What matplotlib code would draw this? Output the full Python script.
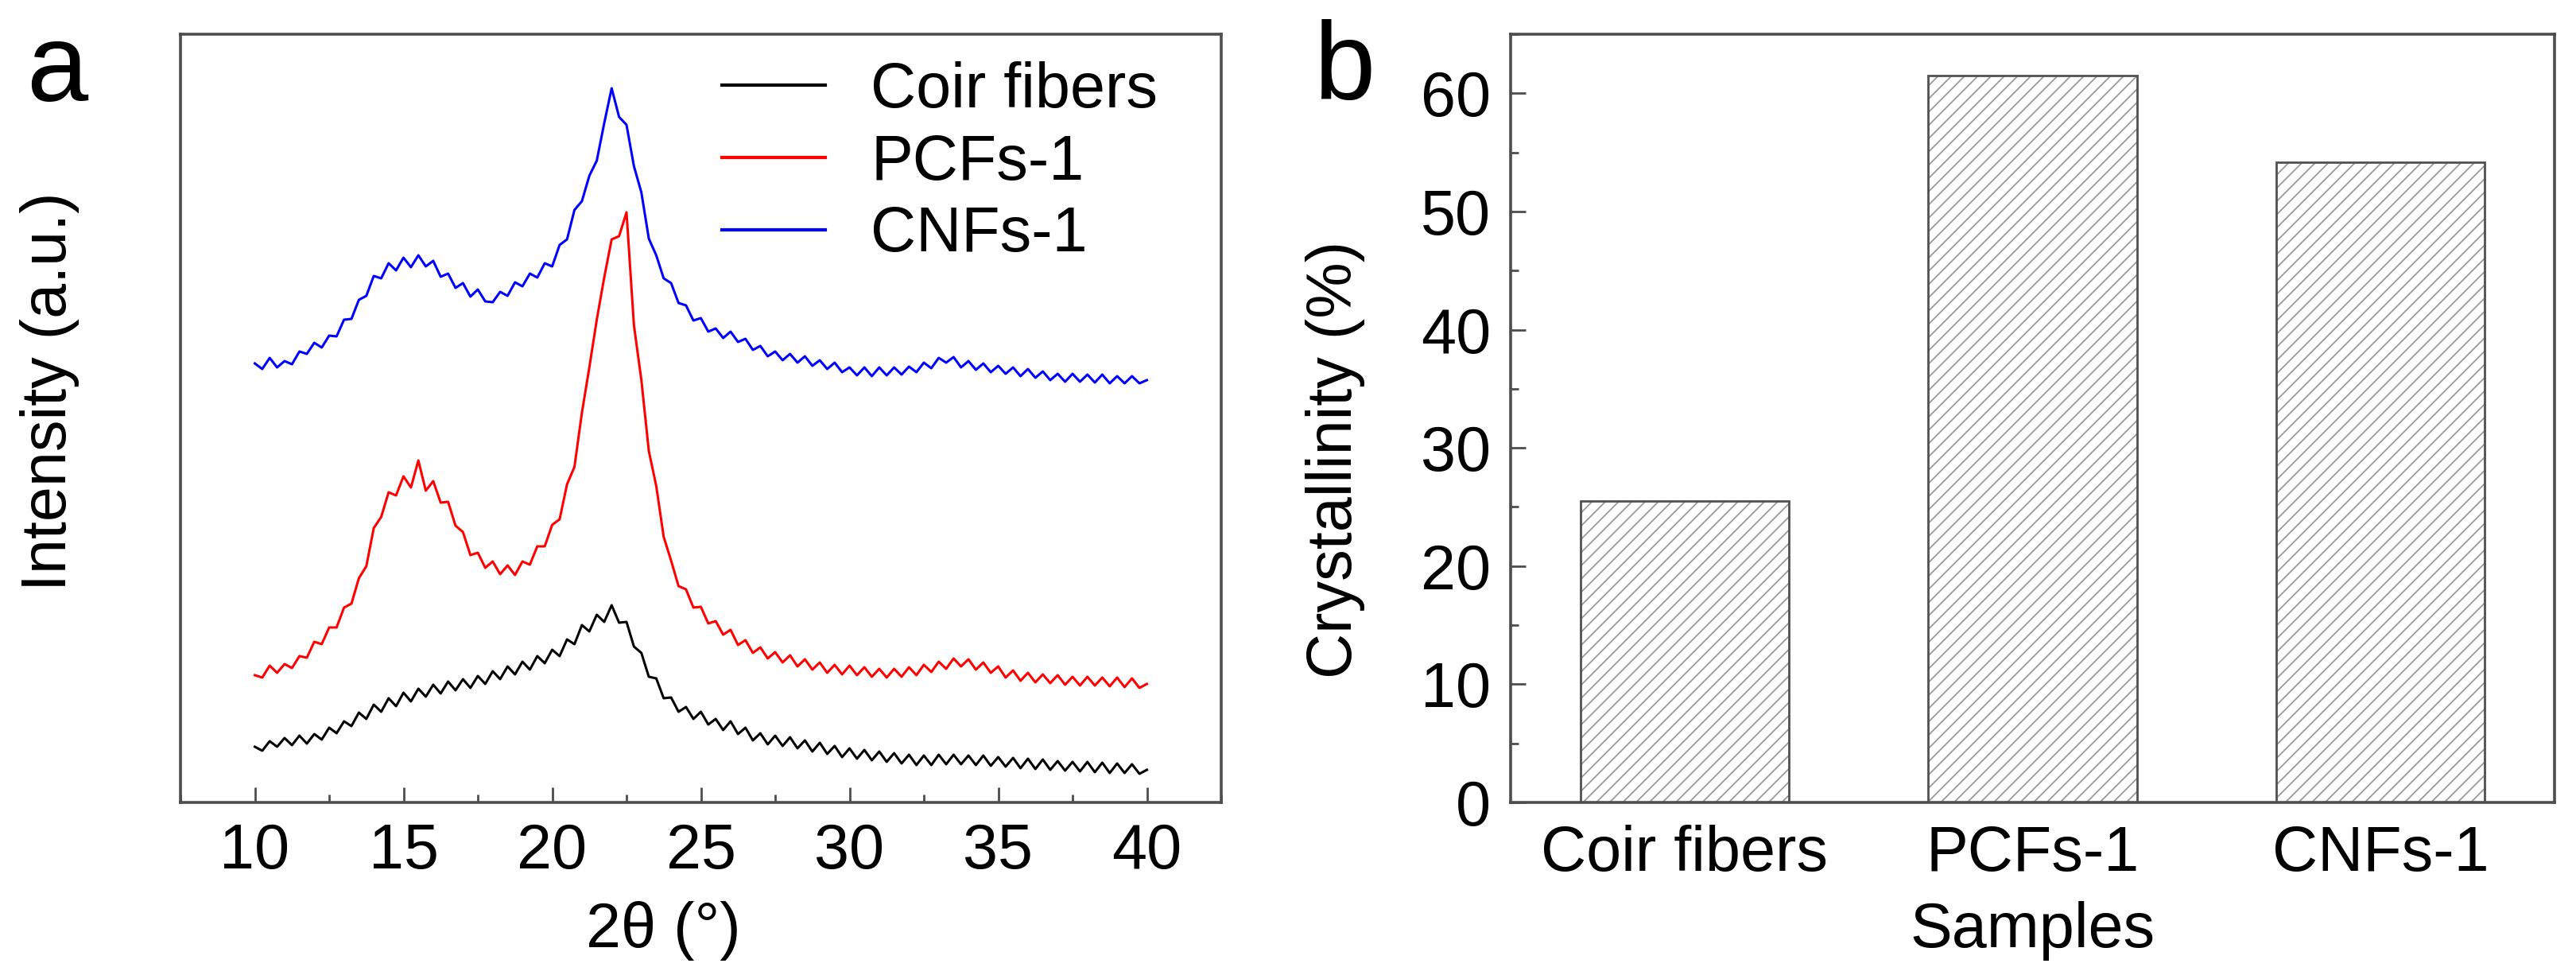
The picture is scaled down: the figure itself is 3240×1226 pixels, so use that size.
import numpy as np
import matplotlib
matplotlib.use("Agg")
import matplotlib.pyplot as plt
from matplotlib.ticker import MultipleLocator

plt.rcParams['font.family'] = ['Liberation Sans', 'DejaVu Sans']
plt.rcParams['hatch.linewidth'] = 1.3

# -----------------------------
# Data (a): XRD patterns (a.u.)
# -----------------------------
two_theta = np.arange(10.0, 40.01, 0.25)

coir_fibers = [
    70, 65, 77, 70,      # 10
    81, 72, 84, 74,      # 11
    86, 79, 94, 87,      # 12
    102, 96, 113, 105,   # 13
    123, 114, 131, 121,  # 14
    138, 127, 143, 133,  # 15
    148, 137, 152, 141,  # 16
    155, 144, 159, 149,  # 17
    165, 155, 171, 161,  # 18
    177, 167, 184, 175,  # 19
    192, 184, 205, 199,  # 20
    223, 215, 236, 227,  # 21
    248, 226, 227, 196,  # 22
    188, 158, 156, 131,  # 23
    132, 114, 120, 105,  # 24
    114, 98, 105, 91,    # 25
    102, 86, 94, 78,     # 26
    87, 73, 84, 71,      # 27
    82, 68, 78, 64,      # 28
    75, 61, 71, 57,      # 29
    68, 55, 66, 53,      # 30
    64, 51, 62, 49,      # 31
    60, 47, 59, 47,      # 32
    60, 48, 60, 48,      # 33
    59, 47, 59, 46,      # 34
    57, 45, 56, 43,      # 35
    55, 42, 54, 41,      # 36
    52, 40, 51, 39,      # 37
    51, 38, 50, 37,      # 38
    49, 37, 48, 36,      # 39
    41,                  # 40
]

pcfs_1 = [
    160, 157, 172, 163,  # 10
    174, 169, 184, 182,  # 11
    202, 199, 220, 220,  # 12
    245, 250, 282, 297,  # 13
    345, 359, 390, 386,  # 14
    410, 396, 430, 392,  # 15
    404, 377, 378, 348,  # 16
    340, 311, 314, 295,  # 17
    303, 287, 298, 286,  # 18
    303, 299, 322, 322,  # 19
    349, 356, 400, 422,  # 20
    490, 547, 607, 660,  # 21
    708, 712, 742, 600,  # 22
    531, 442, 398, 334,  # 23
    304, 272, 268, 245,  # 24
    246, 225, 228, 211,  # 25
    217, 198, 204, 188,  # 26
    195, 181, 189, 176,  # 27
    185, 171, 180, 167,  # 28
    176, 163, 173, 161,  # 29
    172, 160, 170, 158,  # 30
    168, 157, 168, 158,  # 31
    170, 160, 173, 164,  # 32
    177, 168, 181, 171,  # 33
    180, 167, 176, 163,  # 34
    171, 157, 166, 153,  # 35
    163, 151, 161, 150,  # 36
    160, 148, 158, 147,  # 37
    158, 147, 157, 146,  # 38
    157, 145, 156, 144,  # 39
    149,                 # 40
]

cnfs_1 = [
    552, 545, 559, 547,  # 10
    555, 551, 567, 564,  # 11
    578, 572, 587, 586,  # 12
    607, 608, 632, 637,  # 13
    662, 659, 678, 669,  # 14
    685, 673, 688, 674,  # 15
    681, 661, 665, 647,  # 16
    653, 636, 645, 630,  # 17
    629, 642, 637, 654,  # 18
    649, 665, 660, 678,  # 19
    674, 701, 708, 745,  # 20
    756, 788, 807, 854,  # 21
    898, 862, 852, 800,  # 22
    767, 709, 688, 659,  # 23
    653, 628, 625, 606,  # 24
    609, 592, 596, 584,  # 25
    592, 579, 583, 569,  # 26
    574, 561, 567, 556,  # 27
    564, 553, 561, 549,  # 28
    556, 545, 553, 541,  # 29
    547, 537, 547, 536,  # 30
    547, 537, 547, 538,  # 31
    548, 541, 553, 546,  # 32
    559, 553, 560, 547,  # 33
    555, 544, 552, 541,  # 34
    549, 539, 547, 536,  # 35
    545, 534, 542, 531,  # 36
    539, 529, 539, 529,  # 37
    538, 528, 538, 527,  # 38
    536, 527, 536, 527,  # 39
    531,                 # 40
]

xrd_labels = ["Coir fibers", "PCFs-1", "CNFs-1"]
xrd_colors = ["black", "red", "blue"]

# -----------------------------
# Data (b): crystallinity
# -----------------------------
samples = ["Coir fibers", "PCFs-1", "CNFs-1"]
crystallinity = [25.5, 61.5, 54.2]

# -----------------------------
# Figure
# -----------------------------
W, H = 3240, 1226
fig = plt.figure(figsize=(W / 100, H / 100), dpi=100)
ax_a = fig.add_axes([227 / W, 217 / H, 1309 / W, 966 / H])
ax_b = fig.add_axes([1900 / W, 217 / H, 1313 / W, 966 / H])

spine_col = "#4d4d4d"
fs = 57

for ax in (ax_a, ax_b):
    for sp in ax.spines.values():
        sp.set_color(spine_col)
        sp.set_linewidth(2.6)
    ax.tick_params(which="both", direction="in", color=spine_col, width=2,
                   labelsize=fs, top=False, right=False)
    ax.tick_params(which="major", length=14)
    ax.tick_params(which="minor", length=7.5)

# ---- panel a ----
for y, lab, c in zip([coir_fibers, pcfs_1, cnfs_1], xrd_labels, xrd_colors):
    ax_a.plot(two_theta, y, color=c, lw=2.2, label=lab)

ax_a.set_xlim(7.5, 42.5)
ax_a.set_ylim(0, 966)
ax_a.xaxis.set_major_locator(MultipleLocator(5))
ax_a.xaxis.set_minor_locator(MultipleLocator(2.5))
ax_a.set_yticks([])
ax_a.tick_params(axis="x", pad=18)
ax_a.set_xlabel("2θ (°)", fontsize=fs)
ax_a.xaxis.set_label_coords(0.464, -0.128)
ax_a.set_ylabel("Intensity (a.u.)", fontsize=fs)
ax_a.yaxis.set_label_coords(-0.097, 0.535)

leg = ax_a.legend(loc="upper left", bbox_to_anchor=(0.52, 0.965), frameon=False,
                  fontsize=fs, handlelength=1.65, handletextpad=0.72,
                  labelspacing=0.2, borderpad=0, borderaxespad=0)
for h in leg.get_lines():
    h.set_linewidth(3)

# ---- panel b ----
xpos = np.arange(1, len(samples) + 1)
ax_b.bar(xpos, crystallinity, width=0.6, color="white", edgecolor="#9a9a9a",
         hatch="//", linewidth=0, zorder=2)
ax_b.bar(xpos, crystallinity, width=0.6, fill=False, edgecolor="#505050",
         linewidth=2, zorder=3)
ax_b.set_xlim(0.5, 3.5)
ax_b.set_ylim(0, 65)
ax_b.set_xticks(xpos)
ax_b.set_xticklabels(samples)
ax_b.tick_params(axis="x", which="both", length=0, pad=20)
ax_b.yaxis.set_major_locator(MultipleLocator(10))
ax_b.yaxis.set_minor_locator(MultipleLocator(5))
ax_b.tick_params(axis="y", pad=18)
ax_b.set_xlabel("Samples", fontsize=fs)
ax_b.xaxis.set_label_coords(0.5, -0.128)
ax_b.set_ylabel("Crystallinity (%)", fontsize=fs)
ax_b.yaxis.set_label_coords(-0.139, 0.446)

# panel letters
fig.text(33 / W, 1 - 127 / H, "a", fontsize=100, va="baseline", ha="left")
fig.text(1652 / W, 1 - 125 / H, "b", fontsize=100, va="baseline", ha="left")

fig.savefig("out.png", dpi=100)
